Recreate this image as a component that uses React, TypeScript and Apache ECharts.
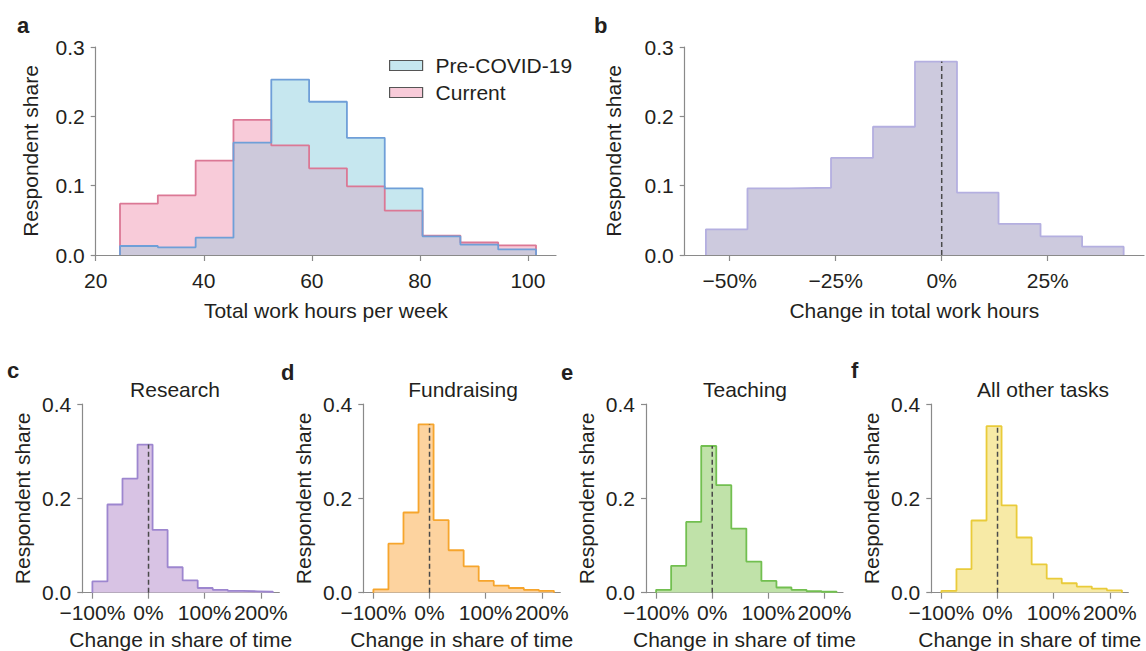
import React, { useEffect, useRef } from 'react';
import * as echarts from 'echarts';

// ---------- data ----------
const hoursEdges = [24.5, 31.5, 38.5, 45.5, 52.5, 59.5, 66.5, 73.5, 80.5, 87.5, 94.5, 101.5];
const preCovid = [0.013, 0.011, 0.025, 0.162, 0.253, 0.221, 0.169, 0.096, 0.027, 0.015, 0.008];
const current = [0.074, 0.086, 0.136, 0.195, 0.158, 0.125, 0.099, 0.064, 0.028, 0.018, 0.014];

const changeEdges = [-55.6, -45.8, -36.0, -26.1, -16.2, -6.3, 3.6, 13.4, 23.3, 33.1, 42.9];
const changeShare = [0.037, 0.096, 0.097, 0.14, 0.185, 0.279, 0.09, 0.045, 0.027, 0.012];

const taskEdges = [-100, -73.2, -46.4, -19.6, 7.2, 34, 60.8, 87.6, 114.4, 141.2, 168, 194.8, 221.6];
const research = [0.024, 0.187, 0.242, 0.314, 0.133, 0.054, 0.026, 0.01, 0.006, 0.004, 0.003, 0.002];
const fundraising = [0.007, 0.104, 0.17, 0.357, 0.154, 0.09, 0.056, 0.025, 0.015, 0.01, 0.006, 0.004];
const teaching = [0.006, 0.057, 0.15, 0.311, 0.228, 0.136, 0.066, 0.025, 0.011, 0.006, 0.0035, 0.002];
const otherTasks = [0.004, 0.05, 0.153, 0.353, 0.185, 0.117, 0.06, 0.03, 0.02, 0.013, 0.0085, 0.005];

const taskTitles = ['Research', 'Fundraising', 'Teaching', 'All other tasks'];
const hoursTicks = [20, 40, 60, 80, 100];
const changeTicks = [-50, -25, 0, 25];
const taskTicks = [-100, 0, 100, 200];

// ---------- styles ----------
const FONT = '"Liberation Sans", Arial, Helvetica, sans-serif';
const FS = 21;
const TEXT = '#231f20';
const AXIS = '#8a8a8a';
const preLine = '#6f9fd8';
const preFill = '#c6e7ef';
const curLine = '#db7895';
const curFill = '#f8cbd9';
const overlapFill = '#cdc9db';
const changeLine = '#b4afe0';
const changeFill = '#cdcade';
const taskLines = ['#9d86cf', '#f6a52d', '#72bf50', '#e9cb3a'];
const taskFills = ['#d8c3e4', '#fdd39f', '#c0e2a9', '#f7eaa6'];

const stepData = (edges: number[], vals: number[]) => {
  const pts: number[][] = [[edges[0], 0]];
  vals.forEach((v, i) => pts.push([edges[i], v]));
  pts.push([edges[edges.length - 1], vals[vals.length - 1]]);
  pts.push([edges[edges.length - 1], 0]);
  return pts;
};

const zeroPeak = (edges: number[], vals: number[]) => {
  let idx = 0;
  for (let i = 0; i < vals.length; i++) if (edges[i] <= 0 && edges[i + 1] > 0) idx = i;
  return [[0, 0], [0, vals[idx]]];
};

const pct = (v: number) => (v < 0 ? '\u2212' + Math.abs(v) : String(v)) + '%';

const xAxisDef = (idx: number, min: number, max: number, ticks: number[], fmt: any, name: string, margin: number, nameGap: number) => ({
  type: 'value', gridIndex: idx, min, max,
  axisLine: { show: true, onZero: false, lineStyle: { color: AXIS, width: 1.2 } },
  axisTick: { show: true, length: 6, customValues: ticks, lineStyle: { color: AXIS, width: 1.2 } },
  axisLabel: { customValues: ticks, formatter: fmt, fontSize: FS, color: TEXT, margin, fontFamily: FONT },
  splitLine: { show: false },
  name, nameLocation: 'middle', nameGap,
  nameTextStyle: { fontSize: FS, color: TEXT, fontFamily: FONT },
});

const yAxisDef = (idx: number, max: number, interval: number, nameGap: number) => ({
  type: 'value', gridIndex: idx, min: 0, max, interval,
  axisLine: { show: true, onZero: false, lineStyle: { color: AXIS, width: 1.2 } },
  axisTick: { show: true, length: 5, lineStyle: { color: AXIS, width: 1.2 } },
  axisLabel: { formatter: (v: number) => v.toFixed(1), fontSize: FS, color: TEXT, margin: 11, fontFamily: FONT },
  splitLine: { show: false },
  name: 'Respondent share', nameLocation: 'middle', nameGap,
  nameTextStyle: { fontSize: FS, color: TEXT, fontFamily: FONT },
});

const fillSeries = (name: string, idx: number, data: number[][], color: string, z: number) => ({
  name, type: 'line', xAxisIndex: idx, yAxisIndex: idx, data, step: 'end', symbol: 'none',
  itemStyle: { color }, lineStyle: { width: 0, opacity: 0 }, areaStyle: { color, opacity: 1 },
  z, silent: true,
});

const lineSeries = (name: string, idx: number, data: number[][], color: string, z: number) => ({
  name, type: 'line', xAxisIndex: idx, yAxisIndex: idx, data, step: 'end', symbol: 'none',
  itemStyle: { color }, lineStyle: { width: 1.8, color }, z, silent: true,
});

const dashSeries = (idx: number, data: number[][]) => ({
  name: 'zero' + idx, type: 'line', xAxisIndex: idx, yAxisIndex: idx, data, symbol: 'none',
  lineStyle: { width: 1.5, color: '#4a4a4a', type: [5, 3] }, z: 10, silent: true,
});

export default function App() {
  const ref = useRef<HTMLDivElement>(null);
  useEffect(() => {
    document.body.style.margin = '0';
    if (!ref.current) return;
    const chart = echarts.init(ref.current, undefined, { renderer: 'svg' });

    const taskData = [research, fundraising, teaching, otherTasks];
    const bottomLefts = [82.3, 363.3, 646, 931.3];
    const titleX = [175, 463, 745, 1043];

    const overlap = preCovid.map((v, i) => Math.min(v, current[i]));

    const grids: any[] = [
      { left: 95.7, top: 47, width: 460.3, height: 208 },
      { left: 684.7, top: 47, width: 459.3, height: 208 },
      ...bottomLefts.map((l) => ({ left: l, top: 404, width: 197, height: 188.7 })),
    ];

    const xAxes: any[] = [
      xAxisDef(0, 20, 105.2, hoursTicks, (v: number) => String(v), 'Total work hours per week', 15, 45),
      xAxisDef(1, -60.6, 47.7, changeTicks, pct, 'Change in total work hours', 15, 45),
      ...bottomLefts.map((_, i) => xAxisDef(i + 2, -118, 233, taskTicks, pct, 'Change in share of time', 9, 36)),
    ];
    const yAxes: any[] = [
      yAxisDef(0, 0.3, 0.1, 55),
      yAxisDef(1, 0.3, 0.1, 61),
      ...bottomLefts.map((_, i) => yAxisDef(i + 2, 0.4, 0.2, 49)),
    ];

    const series: any[] = [
      fillSeries('Current', 0, stepData(hoursEdges, current), curFill, 1),
      fillSeries('Pre-COVID-19', 0, stepData(hoursEdges, preCovid), preFill, 2),
      fillSeries('overlap', 0, stepData(hoursEdges, overlap), overlapFill, 3),
      lineSeries('Current outline', 0, stepData(hoursEdges, current), curLine, 4),
      lineSeries('Pre-COVID-19 outline', 0, stepData(hoursEdges, preCovid), preLine, 5),
      fillSeries('change fill', 1, stepData(changeEdges, changeShare), changeFill, 1),
      lineSeries('change line', 1, stepData(changeEdges, changeShare), changeLine, 2),
      dashSeries(1, zeroPeak(changeEdges, changeShare)),
    ];
    taskData.forEach((vals, i) => {
      series.push(fillSeries('task fill ' + i, i + 2, stepData(taskEdges, vals), taskFills[i], 1));
      series.push(lineSeries('task line ' + i, i + 2, stepData(taskEdges, vals), taskLines[i], 2));
      series.push(dashSeries(i + 2, zeroPeak(taskEdges, vals)));
    });

    const letter = (t: string, x: number, baseline: number) => ({
      type: 'text', x, y: baseline - 0.35 * 22,
      style: { text: t, fontSize: 22, fontWeight: 'bold', fill: TEXT, fontFamily: FONT, align: 'left', verticalAlign: 'middle' },
    });
    const graphics: any[] = [
      letter('a', 17, 33.3),
      letter('b', 594, 33),
      letter('c', 7, 378.3),
      letter('d', 281, 380),
      letter('e', 561, 380),
      letter('f', 851, 378.5),
      ...taskTitles.map((t, i) => ({
        type: 'text', x: titleX[i], y: 396.7 - 0.35 * FS,
        style: { text: t, fontSize: FS, fill: TEXT, fontFamily: FONT, align: 'center', verticalAlign: 'middle' },
      })),
    ];

    chart.setOption({
      animation: false,
      backgroundColor: '#ffffff',
      textStyle: { fontFamily: FONT },
      grid: grids,
      xAxis: xAxes,
      yAxis: yAxes,
      legend: {
        show: true, orient: 'vertical', left: 389, top: 55, padding: 0,
        itemWidth: 33, itemHeight: 10, itemGap: 6, selectedMode: false,
        textStyle: { fontSize: FS, color: TEXT, fontFamily: FONT, padding: [0, 0, 0, 8] },
        data: [
          { name: 'Pre-COVID-19', icon: 'rect', itemStyle: { color: preFill, borderColor: '#555555', borderWidth: 1.2 } },
          { name: 'Current', icon: 'rect', itemStyle: { color: curFill, borderColor: '#555555', borderWidth: 1.2 } },
        ],
      },
      graphic: graphics,
      series,
    });
    return () => chart.dispose();
  }, []);
  return <div ref={ref} style={{ position: 'absolute', left: 0, top: 0, width: 1146, height: 651 }} />;
}
